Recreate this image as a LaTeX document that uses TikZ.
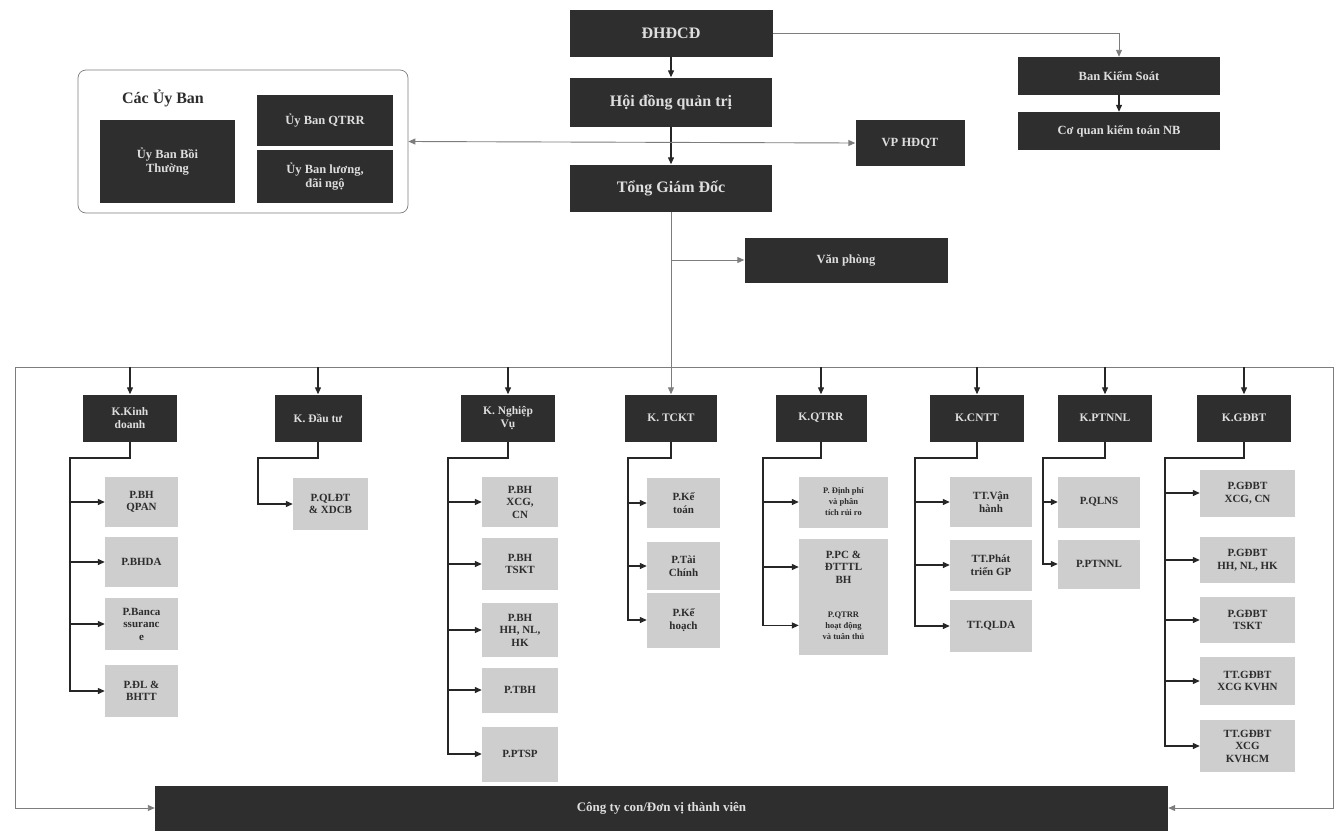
\documentclass[tikz,border=0pt]{standalone}
\usepackage{fontspec}
\setmainfont{Liberation Serif}
\usepackage{xcolor}
\definecolor{boxDark}{RGB}{46,46,46}
\definecolor{boxLight}{RGB}{206,206,206}
\definecolor{txtLight}{RGB}{222,222,222}
\definecolor{txtDark}{RGB}{45,45,45}
\definecolor{lineGray}{RGB}{125,125,125}
\usepackage{tikz}
\usetikzlibrary{arrows.meta, positioning}

\begin{document}
\begin{tikzpicture}[x=1pt, y=-1pt,
  sz/.style 2 args={minimum width=#1pt, minimum height=#2pt},
  dk/.style={rectangle, fill=boxDark, text=txtLight, align=center, inner sep=1pt,
             font=\bfseries\fontsize{11.5}{13.5}\selectfont},
  topbox/.style={dk, font=\bfseries\fontsize{16}{18}\selectfont},
  midbox/.style={dk, font=\bfseries\fontsize{12.5}{14.5}\selectfont},
  dept/.style={dk, sz={94}{47}},
  lt/.style={rectangle, fill=boxLight, text=txtDark, align=center, inner sep=1pt,
             font=\bfseries\fontsize{11}{12.5}\selectfont},
  ltsmall/.style={lt, font=\bfseries\fontsize{8.5}{11}\selectfont},
  frame/.style={draw=lineGray, line width=0.7pt},
  line/.style={line width=1.2pt, black!85},
  arrow/.style={-{Triangle[length=7pt, width=6pt]}, line width=1.2pt, black!85},
  garrow/.style={-{Triangle[length=7pt, width=6pt]}, line width=0.9pt, lineGray},
  dgarrow/.style={{Triangle[length=7pt, width=6pt]}-{Triangle[length=7pt, width=6pt]},
                  line width=0.9pt, lineGray},
]
  \useasboundingbox (0,0) rectangle (1340,833);

  % Top: shareholders, board, CEO
  \node[topbox, sz={203}{47}] (dhdcd) at (671,33) {ĐHĐCĐ};
  \node[topbox, sz={202}{49}] (hdqt) at (671,102) {Hội đồng quản trị};
  \node[topbox, sz={202}{47}] (tgd) at (671,188) {Tổng Giám Đốc};
  \node[midbox, sz={109}{46}] (vphdqt) at (910,143) {VP HĐQT};
  \node[midbox, sz={202}{38}] (bks) at (1119,76) {Ban Kiểm Soát};
  \node[midbox, sz={202}{38}] (cqkt) at (1119,131) {Cơ quan kiểm toán NB};
  \node[midbox, sz={203}{45}] (vanphong) at (846,260) {Văn phòng};

  \draw[arrow] (dhdcd) -- (hdqt);
  \draw[arrow] (hdqt) -- (tgd);
  \draw[garrow] (dhdcd.east) -| (bks.north);
  \draw[arrow] (bks) -- (cqkt);

  % Committees
  \node[frame, rounded corners=8pt, sz={330}{143}] (uyban) at (243,141.5) {};
  \node[font=\bfseries\fontsize{16}{18}\selectfont, text=txtDark] (cacub) at (163,98) {Các Ủy Ban};
  \node[midbox, sz={135}{83}] (ubbt) at (167.5,161.5) {Ủy Ban Bồi\\Thường};
  \node[midbox, sz={136}{51}] (ubqtrr) at (325,120.5) {Ủy Ban QTRR};
  \node[midbox, sz={136}{53}] (ubluong) at (325,176.5) {Ủy Ban lương,\\đãi ngộ};

  \draw[dgarrow] (uyban.east) -- (vphdqt.west);

  % Blocks frame
  \coordinate (busL) at (15,367);
  \coordinate (busR) at (1333,367);
  \node[dk, sz={1013}{45}, font=\bfseries\fontsize{13}{15}\selectfont] (cty) at (661.5,808)
    {Công ty con/Đơn vị thành viên};
  \draw[frame] (busL) -- (busR);
  \draw[garrow] (busL) |- (cty.west);
  \draw[garrow] (busR) |- (cty.east);

  % Blocks
  \node[dept] (kd) at (130,418) {K.Kinh\\doanh};
  \node[dept, sz={87}{47}] (dt) at (318,418) {K. Đầu tư};
  \node[dept] (nv) at (508,418) {K. Nghiệp\\Vụ};
  \node[dept, sz={92}{47}] (tckt) at (671,418) {K. TCKT};
  \node[dept, sz={91}{47}] (qtrr) at (821,418) {K.QTRR};
  \node[dept] (cntt) at (977,418) {K.CNTT};
  \node[dept] (ptnnl) at (1105,418) {K.PTNNL};
  \node[dept] (gdbt) at (1244,418) {K.GĐBT};

  \draw[garrow] (tgd) -- (tckt);
  \draw[garrow] (tgd.south |- vanphong.west) -- (vanphong.west);
  \draw[arrow] (kd |- busL) -- (kd.north);
  \draw[arrow] (dt |- busL) -- (dt.north);
  \draw[arrow] (nv |- busL) -- (nv.north);
  \draw[arrow] (qtrr |- busL) -- (qtrr.north);
  \draw[arrow] (cntt |- busL) -- (cntt.north);
  \draw[arrow] (ptnnl |- busL) -- (ptnnl.north);
  \draw[arrow] (gdbt |- busL) -- (gdbt.north);

  % K.Kinh doanh
  \node[lt, sz={73}{50}] (kd1) at (141.5,502) {P.BH\\QPAN};
  \node[lt, sz={73}{50}] (kd2) at (141.5,562) {P.BHDA};
  \node[lt, sz={73}{52}] (kd3) at (141.5,624) {P.Banca\\ssuranc\\e};
  \node[lt, sz={73}{52}] (kd4) at (141.5,691) {P.ĐL \&\\BHTT};
  \coordinate (kdT) at (70,458);
  \draw[arrow] (kd.south) |- (kdT) |- (kd4.west);
  \draw[arrow] (kdT |- kd1.west) -- (kd1.west);
  \draw[arrow] (kdT |- kd2.west) -- (kd2.west);
  \draw[arrow] (kdT |- kd3.west) -- (kd3.west);

  % K. Dau tu
  \node[lt, sz={75}{52}] (dt1) at (330.5,504) {P.QLĐT\\\& XDCB};
  \coordinate (dtT) at (258,458);
  \draw[arrow] (dt.south) |- (dtT) |- (dt1.west);

  % K. Nghiep Vu
  \node[lt, sz={76}{50}] (nv1) at (520,502) {P.BH\\XCG,\\CN};
  \node[lt, sz={76}{52}] (nv2) at (520,564) {P.BH\\TSKT};
  \node[lt, sz={76}{54}] (nv3) at (520,630) {P.BH\\HH, NL,\\HK};
  \node[lt, sz={76}{45}] (nv4) at (520,690) {P.TBH};
  \node[lt, sz={76}{55}] (nv5) at (520,754) {P.PTSP};
  \coordinate (nvT) at (448,458);
  \draw[arrow] (nv.south) |- (nvT) |- (nv5.west);
  \draw[arrow] (nvT |- nv1.west) -- (nv1.west);
  \draw[arrow] (nvT |- nv2.west) -- (nv2.west);
  \draw[arrow] (nvT |- nv3.west) -- (nv3.west);
  \draw[arrow] (nvT |- nv4.west) -- (nv4.west);

  % K. TCKT
  \node[lt, sz={73}{50}] (tc1) at (683.5,503) {P.Kế\\toán};
  \node[lt, sz={73}{48}] (tc2) at (683.5,566) {P.Tài\\Chính};
  \node[lt, sz={73}{55}] (tc3) at (683.5,620) {P.Kế\\hoạch};
  \coordinate (tcT) at (628,458);
  \draw[arrow] (tckt.south) |- (tcT) |- (tc3.west);
  \draw[arrow] (tcT |- tc1.west) -- (tc1.west);
  \draw[arrow] (tcT |- tc2.west) -- (tc2.west);

  % K.QTRR
  \node[ltsmall, sz={89}{51}] (qt1) at (843.5,502) {P. Định phí\\và phân\\tích rủi ro};
  \node[lt, sz={89}{57}] (qt2) at (843.5,567) {P.PC \&\\ĐTTTL\\BH};
  \node[ltsmall, sz={89}{59}, below=0pt of qt2] (qt3) {P.QTRR\\hoạt động\\và tuân thủ};
  \coordinate (qtT) at (763,458);
  \draw[arrow] (qtrr.south) |- (qtT) |- (qt3.west);
  \draw[arrow] (qtT |- qt1.west) -- (qt1.west);
  \draw[arrow] (qtT |- qt2.west) -- (qt2.west);

  % K.CNTT
  \node[lt, sz={82}{50}] (cn1) at (991,502) {TT.Vận\\hành};
  \node[lt, sz={82}{51}] (cn2) at (991,565) {TT.Phát\\triển GP};
  \node[lt, sz={82}{52}] (cn3) at (991,626) {TT.QLDA};
  \coordinate (cnT) at (915,458);
  \draw[arrow] (cntt.south) |- (cnT) |- (cn3.west);
  \draw[arrow] (cnT |- cn1.west) -- (cn1.west);
  \draw[arrow] (cnT |- cn2.west) -- (cn2.west);

  % K.PTNNL
  \node[lt, sz={82}{51}] (pt1) at (1099,502) {P.QLNS};
  \node[lt, sz={82}{49}] (pt2) at (1099,564) {P.PTNNL};
  \coordinate (ptT) at (1043,458);
  \draw[arrow] (ptnnl.south) |- (ptT) |- (pt2.west);
  \draw[arrow] (ptT |- pt1.west) -- (pt1.west);

  % K.GDBT
  \node[lt, sz={95}{47}] (gd1) at (1247.5,493) {P.GĐBT\\XCG, CN};
  \node[lt, sz={95}{46}] (gd2) at (1247.5,560) {P.GĐBT\\HH, NL, HK};
  \node[lt, sz={95}{46}] (gd3) at (1247.5,620) {P.GĐBT\\TSKT};
  \node[lt, sz={95}{48}] (gd4) at (1247.5,681) {TT.GĐBT\\XCG KVHN};
  \node[lt, sz={95}{52}] (gd5) at (1247.5,746) {TT.GĐBT\\XCG\\KVHCM};
  \coordinate (gdT) at (1165,458);
  \draw[arrow] (gdbt.south) |- (gdT) |- (gd5.west);
  \draw[arrow] (gdT |- gd1.west) -- (gd1.west);
  \draw[arrow] (gdT |- gd2.west) -- (gd2.west);
  \draw[arrow] (gdT |- gd3.west) -- (gd3.west);
  \draw[arrow] (gdT |- gd4.west) -- (gd4.west);
\end{tikzpicture}
\end{document}
